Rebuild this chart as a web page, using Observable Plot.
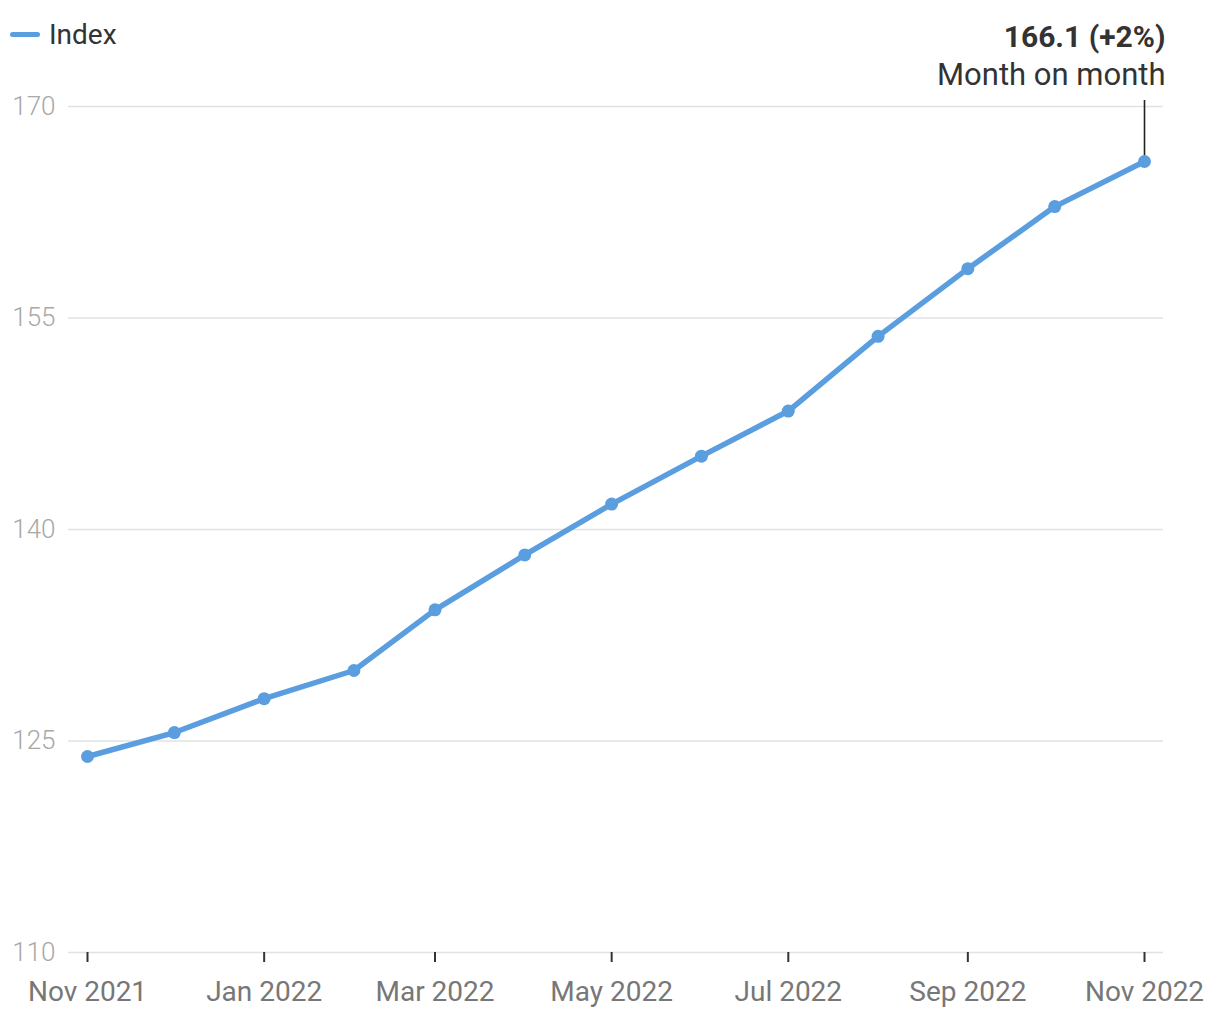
<!DOCTYPE html>
<html>
<head>
<meta charset="utf-8">
<script src="https://cdn.jsdelivr.net/npm/d3@7"></script>
<script src="https://cdn.jsdelivr.net/npm/@observablehq/plot@0.6"></script>
<style>
  html, body { margin: 0; padding: 0; background: #fff; }
  #wrap { position: relative; width: 1220px; height: 1020px; font-family: Roboto, sans-serif; }
  #legend { position: absolute; left: 10px; top: 18px; display: flex; align-items: center; font-size: 28px; color: #333; }
  #legend .sw { width: 30px; height: 5px; border-radius: 3px; background: #5a9ee0; margin-right: 9px; }
  #chart { position: absolute; left: 0; top: 0; }
</style>
</head>
<body>
<div id="wrap">
  <div id="chart"></div>
  <div id="legend"><span class="sw"></span><span>Index</span></div>
</div>
<script>
const seriesName = "Index";
const months = ["2021-11-01","2021-12-01","2022-01-01","2022-02-01","2022-03-01","2022-04-01","2022-05-01","2022-06-01","2022-07-01","2022-08-01","2022-09-01","2022-10-01","2022-11-01"];
const values = [123.9, 125.6, 128.0, 130.0, 134.3, 138.2, 141.8, 145.2, 148.4, 153.7, 158.5, 162.9, 166.1];
const yTicks = [110, 125, 140, 155, 170];
const annotationSub = "Month on month";

const data = months.map((m, i) => ({date: new Date(m + "T00:00:00Z"), value: values[i]}));
const last = data[data.length - 1];
const prev = data[data.length - 2];
const pct = Math.round((last.value / prev.value - 1) * 100);
const headline = `${last.value.toFixed(1)} (${pct >= 0 ? "+" : ""}${pct}%)`;
const color = "#5a9ee0";

const chart = Plot.plot({
  width: 1220,
  height: 1020,
  marginTop: 106,
  marginBottom: 68,
  marginLeft: 68,
  marginRight: 57,
  insetLeft: 19,
  insetRight: 19,
  style: {fontFamily: "Roboto, sans-serif", background: "#fff", overflow: "visible"},
  x: {type: "utc", domain: [data[0].date, last.date]},
  y: {domain: [110, 170]},
  marks: [
    Plot.gridY(yTicks, {stroke: "#e2e2e2", strokeOpacity: 1, strokeWidth: 1.6}),
    Plot.axisY(yTicks, {tickSize: 0, tickPadding: 13, fontSize: 26, fill: "#a8a8a8", label: null, fontWeight: 300}),
    Plot.axisX({ticks: d3.utcMonth.every(2), tickFormat: d3.utcFormat("%b %Y"), tickSize: 10, tickPadding: 19, fontSize: 28, fill: "#777", stroke: "#333", strokeWidth: 2, label: null}),
    Plot.ruleX([last], {x: "date", y1: 170, y2: "value", stroke: "#222", strokeWidth: 1.6, insetTop: -6}),
    Plot.line(data, {x: "date", y: "value", stroke: color, strokeWidth: 5.5, strokeLinejoin: "round", strokeLinecap: "round"}),
    Plot.dot(data, {x: "date", y: "value", r: 6.5, fill: color}),
    Plot.text([last], {x: "date", frameAnchor: "top", text: () => headline, textAnchor: "end", lineAnchor: "bottom", dx: 21, dy: -60, fontSize: 30, fontWeight: "bold", fill: "#333"}),
    Plot.text([last], {x: "date", frameAnchor: "top", text: () => annotationSub, textAnchor: "end", lineAnchor: "bottom", dx: 21, dy: -22, fontSize: 31, fill: "#333"})
  ]
});
document.getElementById("chart").appendChild(chart);
</script>
</body>
</html>
